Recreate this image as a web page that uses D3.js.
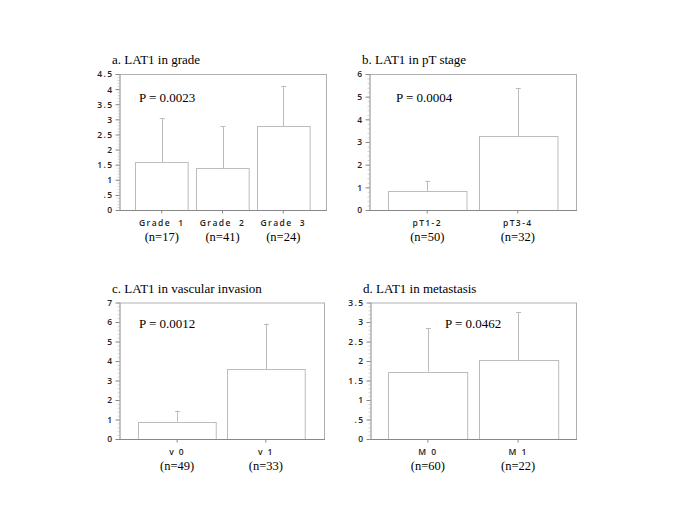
<!DOCTYPE html>
<html><head><meta charset="utf-8">
<script src="https://cdn.jsdelivr.net/npm/d3@7"></script>
<style>
body{margin:0;background:#fff;}
svg{display:block;}
.tick text{font-family:"Open Sans","DejaVu Sans",sans-serif;font-size:8.5px;font-weight:600;fill:#222;letter-spacing:1.4px;}
</style>
</head><body>
<svg id="chart" width="685" height="513"></svg>
<script>
// ---- data ----
const gradeCats = ["Grade  1", "Grade  2", "Grade  3"];
const gradeN = [17, 41, 24];
const gradeMean = [1.58, 1.38, 2.78];
const gradeUpper = [3.03, 2.78, 4.11];
const gradeTicks = [0, 0.5, 1, 1.5, 2, 2.5, 3, 3.5, 4, 4.5];
const gradeTickLabels = ["0", ".5", "1", "1.5", "2", "2.5", "3", "3.5", "4", "4.5"];

const stageCats = ["pT1-2", "pT3-4"];
const stageN = [50, 32];
const stageMean = [0.84, 3.26];
const stageUpper = [1.29, 5.37];
const stageTicks = [0, 1, 2, 3, 4, 5, 6];
const stageTickLabels = ["0", "1", "2", "3", "4", "5", "6"];

const vascCats = ["v 0", "v 1"];
const vascN = [49, 33];
const vascMean = [0.89, 3.57];
const vascUpper = [1.45, 5.92];
const vascTicks = [0, 1, 2, 3, 4, 5, 6, 7];
const vascTickLabels = ["0", "1", "2", "3", "4", "5", "6", "7"];

const metaCats = ["M 0", "M 1"];
const metaN = [60, 22];
const metaMean = [1.73, 2.02];
const metaUpper = [2.85, 3.26];
const metaTicks = [0, 0.5, 1, 1.5, 2, 2.5, 3, 3.5];
const metaTickLabels = ["0", ".5", "1", "1.5", "2", "2.5", "3", "3.5"];

const titles = ["a. LAT1 in grade", "b. LAT1 in pT stage", "c. LAT1 in vascular invasion", "d. LAT1 in metastasis"];
const pValues = ["P = 0.0023", "P = 0.0004", "P = 0.0012", "P = 0.0462"];

// ---- layout ----
const panels = [
  {cats: gradeCats, n: gradeN, mean: gradeMean, upper: gradeUpper, ticks: gradeTicks, tickLabels: gradeTickLabels,
   max: 4.5, minorStep: 0.1, x0: 119, x1: 326, y0: 74, y1: 210, pi: 0.133, po: 0.27, title: titles[0], p: pValues[0], px: 139, py: 102},
  {cats: stageCats, n: stageN, mean: stageMean, upper: stageUpper, ticks: stageTicks, tickLabels: stageTickLabels,
   max: 6, minorStep: 0.2, x0: 369, x1: 576, y0: 74, y1: 210, pi: 0.133, po: 0.21, title: titles[1], p: pValues[1], px: 396, py: 102},
  {cats: vascCats, n: vascN, mean: vascMean, upper: vascUpper, ticks: vascTicks, tickLabels: vascTickLabels,
   max: 7, minorStep: 0.2, x0: 119, x1: 324, y0: 302.5, y1: 439, pi: 0.124, po: 0.217, title: titles[2], p: pValues[2], px: 139, py: 328},
  {cats: metaCats, n: metaN, mean: metaMean, upper: metaUpper, ticks: metaTicks, tickLabels: metaTickLabels,
   max: 3.5, minorStep: 0.1, x0: 370, x1: 576, y0: 302.5, y1: 439, pi: 0.122, po: 0.203, title: titles[3], p: pValues[3], px: 445, py: 328}
];

const svg = d3.select("#chart");
const frameColor = "#b0b0b0";
const barColor = "#bcbcbc";

panels.forEach(pn => {
  const g = svg.append("g");
  const x = d3.scaleBand().domain(pn.cats).range([pn.x0, pn.x1]).paddingInner(pn.pi).paddingOuter(pn.po);
  const y = d3.scaleLinear().domain([0, pn.max]).range([pn.y1, pn.y0]);

  // frame top and right
  g.append("line").attr("x1", pn.x0).attr("x2", pn.x1).attr("y1", pn.y0 + 0.5).attr("y2", pn.y0 + 0.5).attr("stroke", frameColor);
  g.append("line").attr("x1", pn.x1 + 0.5).attr("x2", pn.x1 + 0.5).attr("y1", pn.y0).attr("y2", pn.y1).attr("stroke", frameColor);

  // bars
  const data = pn.cats.map((c, i) => ({c, m: pn.mean[i], u: pn.upper[i]}));
  g.selectAll("rect.bar").data(data).enter().append("rect")
    .attr("x", d => Math.round(x(d.c)) + 0.5)
    .attr("y", d => Math.round(y(d.m)) + 0.5)
    .attr("width", x.bandwidth())
    .attr("height", d => y(0) - Math.round(y(d.m)))
    .attr("fill", "#fff").attr("stroke", barColor);

  // error bars
  g.selectAll("line.err").data(data).enter().append("line")
    .attr("x1", d => Math.round(x(d.c) + x.bandwidth() / 2) + 0.5)
    .attr("x2", d => Math.round(x(d.c) + x.bandwidth() / 2) + 0.5)
    .attr("y1", d => y(d.m)).attr("y2", d => y(d.u))
    .attr("stroke", barColor);
  g.selectAll("line.cap").data(data).enter().append("line")
    .attr("x1", d => x(d.c) + x.bandwidth() / 2 - 2)
    .attr("x2", d => x(d.c) + x.bandwidth() / 2 + 3)
    .attr("y1", d => Math.round(y(d.u)) + 0.5).attr("y2", d => Math.round(y(d.u)) + 0.5)
    .attr("stroke", barColor);

  // minor ticks
  const minor = d3.range(0, pn.max + 1e-9, pn.minorStep);
  const minorAxis = d3.axisLeft(y).tickValues(minor).tickSize(2).tickFormat("");
  g.append("g").attr("transform", `translate(${pn.x0 + 0.5},0)`).call(minorAxis)
    .call(s => s.select(".domain").remove())
    .call(s => s.selectAll("line").attr("stroke", "#d4d4d4"));

  // y axis
  const yAxis = d3.axisLeft(y).tickValues(pn.ticks).tickSize(4).tickSizeOuter(0)
    .tickFormat((d, i) => pn.tickLabels[i]);
  g.append("g").attr("transform", `translate(${pn.x0 + 0.5},0)`).call(yAxis)
    .call(s => s.select(".domain").attr("stroke", "#888"))
    .call(s => s.selectAll(".tick line").attr("stroke", "#888"))
    .call(s => s.selectAll(".tick text").attr("x", -6).attr("dy", "0.35em"));

  // x axis
  const xAxis = d3.axisBottom(x).tickSize(3).tickSizeOuter(0);
  g.append("g").attr("transform", `translate(0,${pn.y1 + 0.5})`).call(xAxis)
    .call(s => s.select(".domain").attr("stroke", "#888").attr("d", `M${pn.x0},0H${pn.x1 + 1}`))
    .call(s => s.selectAll(".tick line").attr("stroke", "#888"))
    .call(s => s.selectAll(".tick text").attr("y", 9).attr("dy", "0.71em").style("white-space", "pre").attr("xml:space", "preserve"));

  // n labels
  g.selectAll("text.n").data(pn.cats).enter().append("text")
    .attr("x", d => x(d) + x.bandwidth() / 2)
    .attr("y", pn.y1 + 31)
    .attr("text-anchor", "middle")
    .attr("font-family", "Liberation Serif, Times New Roman, serif")
    .attr("font-size", 12.5)
    .text((d, i) => `(n=${pn.n[i]})`);

  // title
  g.append("text").attr("x", pn.x0 - 7).attr("y", pn.y0 - 10)
    .attr("font-family", "Liberation Serif, Times New Roman, serif")
    .attr("font-size", 13).text(pn.title);

  // P value
  g.append("text").attr("x", pn.px).attr("y", pn.py)
    .attr("font-family", "Liberation Serif, Times New Roman, serif")
    .attr("font-size", 13).text(pn.p);
});
</script>
</body></html>
